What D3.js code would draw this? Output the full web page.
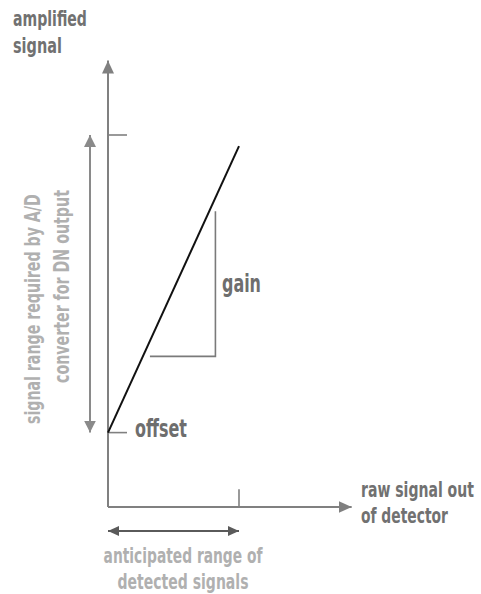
<!DOCTYPE html>
<html>
<head>
<meta charset="utf-8">
<script src="https://cdn.jsdelivr.net/npm/d3@7"></script>
<style>
  html, body { margin: 0; padding: 0; background: #fff; }
  text { font-family: "Liberation Sans Narrow", "DejaVu Sans Condensed", "Roboto Condensed", "Roboto", sans-serif; font-weight: bold; }
</style>
</head>
<body>
<svg id="chart" width="481" height="594"></svg>
<script>
// ---- data (diagram units: 0..100 on both axes) ----
const xDomain = [0, 100];            // anticipated range of detected signals
const yDomain = [0, 100];            // 0 = x-axis, 100 = top of A/D range
const responseLine = [{x: 0, y: 20}, {x: 100, y: 97}];   // offset -> max
const gainTriangle = [{x: 32, y: 40.5}, {x: 82, y: 40.5}, {x: 82, y: 79.5}];
const axisEnds = {x: 186, y: 120};
const offsetValue = 20;
const adcMax = 100;
const detectedMax = 100;
const yAxisLabel = ["amplified", "signal"];
const xAxisLabel = ["raw signal out", "of detector"];
const rangeLabelY = ["signal range required by A/D", "converter for DN output"];
const rangeLabelX = ["anticipated range of", "detected signals"];
const gainLabel = "gain";
const offsetLabel = "offset";

const svg = d3.select("#chart");
const x = d3.scaleLinear().domain(xDomain).range([108, 239]);
const y = d3.scaleLinear().domain(yDomain).range([507, 135]);

const axisColor = "#808080";
const darkText = "#717171";
const lightText = "#b0b0b0";

const defs = svg.append("defs");
function marker(id, color, len, half) {
  defs.append("marker").attr("id", id)
    .attr("markerUnits", "userSpaceOnUse")
    .attr("viewBox", `0 ${-half} ${len} ${2*half}`)
    .attr("refX", len).attr("refY", 0)
    .attr("markerWidth", len).attr("markerHeight", 2*half)
    .attr("orient", "auto-start-reverse")
    .append("path").attr("d", `M0,${-half}L${len},0L0,${half}Z`).attr("fill", color);
}
marker("axArrow", axisColor, 13, 6);
marker("rngArrow", "#8a8a8a", 12, 6);
marker("botArrow", "#5a5a5a", 11, 5);

const line = d3.line().x(d => x(d.x)).y(d => y(d.y));

// axes
svg.append("path").attr("d", line([{x: 0, y: 0}, {x: 0, y: axisEnds.y}]))
  .attr("stroke", axisColor).attr("stroke-width", 2).attr("fill", "none")
  .attr("marker-end", "url(#axArrow)");
svg.append("path").attr("d", line([{x: 0, y: 0}, {x: axisEnds.x, y: 0}]))
  .attr("stroke", axisColor).attr("stroke-width", 2).attr("fill", "none")
  .attr("marker-end", "url(#axArrow)");

// ticks
svg.append("path").attr("d", line([{x: 0, y: adcMax}, {x: 14.5, y: adcMax}]))
  .attr("stroke", axisColor).attr("stroke-width", 1.6).attr("fill", "none");
svg.append("path").attr("d", line([{x: 0, y: offsetValue}, {x: 14.5, y: offsetValue}]))
  .attr("stroke", axisColor).attr("stroke-width", 1.6).attr("fill", "none");
svg.append("path").attr("d", line([{x: detectedMax, y: 0}, {x: detectedMax, y: 4.8}]))
  .attr("stroke", axisColor).attr("stroke-width", 1.6).attr("fill", "none");

// gain triangle
svg.append("path").attr("d", line(gainTriangle))
  .attr("stroke", "#7a7a7a").attr("stroke-width", 1.6).attr("fill", "none");

// response line
svg.append("path").attr("d", line(responseLine))
  .attr("stroke", "#111").attr("stroke-width", 2).attr("fill", "none");

// range arrows
svg.append("line")
  .attr("x1", x(0) - 18).attr("x2", x(0) - 18)
  .attr("y1", y(offsetValue)).attr("y2", y(adcMax))
  .attr("stroke", "#8a8a8a").attr("stroke-width", 2)
  .attr("marker-start", "url(#rngArrow)").attr("marker-end", "url(#rngArrow)");
svg.append("line")
  .attr("x1", x(0)).attr("x2", x(detectedMax))
  .attr("y1", 531).attr("y2", 531)
  .attr("stroke", "#5a5a5a").attr("stroke-width", 2)
  .attr("marker-start", "url(#botArrow)").attr("marker-end", "url(#botArrow)");

// labels: natural text squeezed horizontally to the reference width
function label(str, px, py, len, size, color, anchor, rot) {
  const g = svg.append("g");
  const t = g.append("text").text(str)
    .attr("x", 0).attr("y", 0)
    .attr("font-size", size).attr("fill", color)
    .attr("text-anchor", anchor || "start");
  const w = t.node().getComputedTextLength();
  const sx = w > 0 ? len / w : 1;
  g.attr("transform", `translate(${px},${py})` + (rot ? ` rotate(${rot})` : "") + ` scale(${sx},1)`);
  return t;
}
label(yAxisLabel[0], 13, 26, 74, 22, darkText);
label(yAxisLabel[1], 13, 53, 49, 22, darkText);
label(xAxisLabel[0], 361, 497, 113, 22, darkText);
label(xAxisLabel[1], 361, 523, 87, 22, darkText);
label(gainLabel, 222, 292, 39, 24, "#6e6e6e");
label(offsetLabel, 135, 437, 52, 24, "#6e6e6e");
label(rangeLabelX[0], 183, 563, 159, 21, lightText, "middle");
label(rangeLabelX[1], 183, 589, 131, 21, lightText, "middle");
label(rangeLabelY[0], 40, 424, 230, 21, lightText, "start", -90);
label(rangeLabelY[1], 69, 383, 193, 21, lightText, "start", -90);
</script>
</body>
</html>
